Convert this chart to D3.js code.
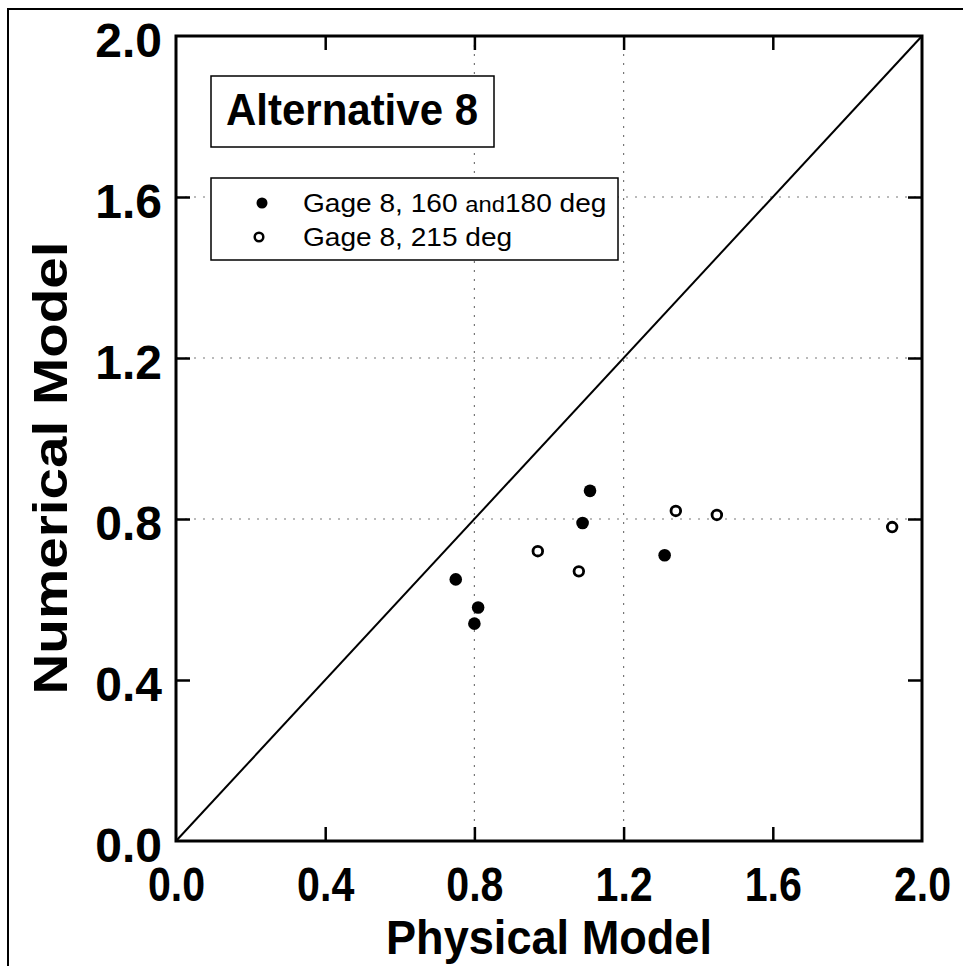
<!DOCTYPE html>
<html><head><meta charset="utf-8">
<script src="https://cdn.jsdelivr.net/npm/d3@7"></script>
<style>body{margin:0;background:#fff}</style>
</head><body>
<svg id="c" width="963" height="966"></svg>
<script>
// ---- data ----
const xTicks = [0.0, 0.4, 0.8, 1.2, 1.6, 2.0];
const yTicks = [0.0, 0.4, 0.8, 1.2, 1.6, 2.0];
const tickLabels = ["0.0", "0.4", "0.8", "1.2", "1.6", "2.0"];
const gridX = [0.8, 1.2];
const gridY = [0.8, 1.2, 1.6];
const filledX = [0.75, 0.80, 0.81, 1.09, 1.11, 1.31];
const filledY = [0.65, 0.54, 0.58, 0.79, 0.87, 0.71];
const openX = [0.97, 1.08, 1.34, 1.45, 1.92];
const openY = [0.72, 0.67, 0.82, 0.81, 0.78];
const lineX = [0, 2];
const lineY = [0, 2];
const titleText = "Alternative 8";
const seriesNames = ["Gage 8, 160 ", "and", "180 deg"];
const series2Name = "Gage 8, 215 deg";
const xTitle = "Physical Model";
const yTitle = "Numerical Model";

const FONT = "'Liberation Sans', Arial, Helvetica, sans-serif";
const svg = d3.select("#c");
const L = 176, R = 922, T = 36, B = 841;
const x = d3.scaleLinear().domain([0, 2]).range([L, R]);
const y = d3.scaleLinear().domain([0, 2]).range([B, T]);

// outer page border (top & left visible)
svg.append("rect").attr("x", 8).attr("y", 9).attr("width", 1000).attr("height", 1000)
  .attr("fill", "none").attr("stroke", "#000").attr("stroke-width", 2);

// grid
svg.append("g").selectAll("line").data(gridX).join("line")
  .attr("x1", d => x(d)).attr("x2", d => x(d)).attr("y1", T).attr("y2", B)
  .attr("stroke", "#777").attr("stroke-width", 1.2).attr("stroke-dasharray", "2,7");
svg.append("g").selectAll("line").data(gridY).join("line")
  .attr("y1", d => y(d)).attr("y2", d => y(d)).attr("x1", L).attr("x2", R)
  .attr("stroke", "#777").attr("stroke-width", 1.2).attr("stroke-dasharray", "2,7");

// axes (inward ticks)
const inner = xTicks.slice(1, -1);
const gB = svg.append("g").attr("transform", `translate(0,${B})`)
  .call(d3.axisBottom(x).tickValues(xTicks).tickFormat((d, i) => tickLabels[i]).tickSizeInner(-14).tickSizeOuter(0));
const gT = svg.append("g").attr("transform", `translate(0,${T})`)
  .call(d3.axisTop(x).tickValues(inner).tickFormat("").tickSizeInner(-14).tickSizeOuter(0));
const gL = svg.append("g").attr("transform", `translate(${L},0)`)
  .call(d3.axisLeft(y).tickValues(yTicks).tickFormat((d, i) => tickLabels[i]).tickSizeInner(-14).tickSizeOuter(0));
const gR = svg.append("g").attr("transform", `translate(${R},0)`)
  .call(d3.axisRight(y).tickValues(yTicks.slice(1, -1)).tickFormat("").tickSizeInner(-14).tickSizeOuter(0));
[gB, gT, gL, gR].forEach(g => {
  g.select(".domain").remove();
  g.selectAll(".tick line").attr("stroke", "#000").attr("stroke-width", 2.5);
});
gB.selectAll(".tick text").attr("y", 0).attr("dy", null)
  .attr("transform", "translate(0,60) scale(0.84,1)")
  .attr("font-family", FONT).attr("font-weight", "bold").attr("font-size", 49).attr("fill", "#000");
gL.selectAll(".tick text").attr("x", -14).attr("dy", null).attr("y", 20)
  .attr("font-family", FONT).attr("font-weight", "bold").attr("font-size", 48).attr("fill", "#000");
gB.selectAll(".tick line").filter(d => d === 0 || d === 2).remove();
gL.selectAll(".tick line").filter(d => d === 0 || d === 2).remove();

// diagonal line
svg.append("path").datum(lineX.map((d, i) => [d, lineY[i]]))
  .attr("d", d3.line().x(d => x(d[0])).y(d => y(d[1])))
  .attr("stroke", "#000").attr("stroke-width", 2).attr("fill", "none");

// frame
svg.append("rect").attr("x", L).attr("y", T).attr("width", R - L).attr("height", B - T)
  .attr("fill", "none").attr("stroke", "#000").attr("stroke-width", 3);

// points
svg.append("g").selectAll("circle").data(filledX.map((d, i) => [d, filledY[i]])).join("circle")
  .attr("cx", d => x(d[0])).attr("cy", d => y(d[1])).attr("r", 6.3).attr("fill", "#000");
svg.append("g").selectAll("circle").data(openX.map((d, i) => [d, openY[i]])).join("circle")
  .attr("cx", d => x(d[0])).attr("cy", d => y(d[1])).attr("r", 4.8)
  .attr("fill", "#fff").attr("stroke", "#000").attr("stroke-width", 2.8);

// title box
svg.append("rect").attr("x", 211).attr("y", 76).attr("width", 283).attr("height", 71)
  .attr("fill", "#fff").attr("stroke", "#000").attr("stroke-width", 1.5);
svg.append("text").attr("x", 352).attr("y", 125).attr("text-anchor", "middle")
  .attr("font-family", FONT).attr("font-weight", "bold").attr("font-size", 45)
  .attr("textLength", 252).attr("lengthAdjust", "spacingAndGlyphs").text(titleText);

// legend box
svg.append("rect").attr("x", 211).attr("y", 178).attr("width", 407).attr("height", 82)
  .attr("fill", "#fff").attr("stroke", "#000").attr("stroke-width", 1.5);
svg.append("circle").attr("cx", 262).attr("cy", 203).attr("r", 5.5).attr("fill", "#000");
svg.append("circle").attr("cx", 259).attr("cy", 237).attr("r", 4.3).attr("fill", "#fff")
  .attr("stroke", "#000").attr("stroke-width", 2.5);
const t1 = svg.append("text").attr("transform", "translate(303,212) scale(1.08,1)")
  .attr("font-family", FONT).attr("font-size", 26).attr("fill", "#000");
t1.append("tspan").text(seriesNames[0]);
t1.append("tspan").attr("font-size", 22).text(seriesNames[1]);
t1.append("tspan").text(seriesNames[2]);
svg.append("text").attr("transform", "translate(303,246) scale(1.08,1)")
  .attr("font-family", FONT).attr("font-size", 26).attr("fill", "#000").text(series2Name);

// axis titles
svg.append("text").attr("transform", `translate(${(L + R) / 2},954) scale(0.94,1)`)
  .attr("text-anchor", "middle").attr("font-family", FONT).attr("font-weight", "bold")
  .attr("font-size", 48).text(xTitle);
svg.append("text").attr("transform", `translate(67,468) rotate(-90) scale(1.18,1)`)
  .attr("text-anchor", "middle").attr("font-family", FONT).attr("font-weight", "bold")
  .attr("font-size", 48).text(yTitle);
</script>
</body></html>
